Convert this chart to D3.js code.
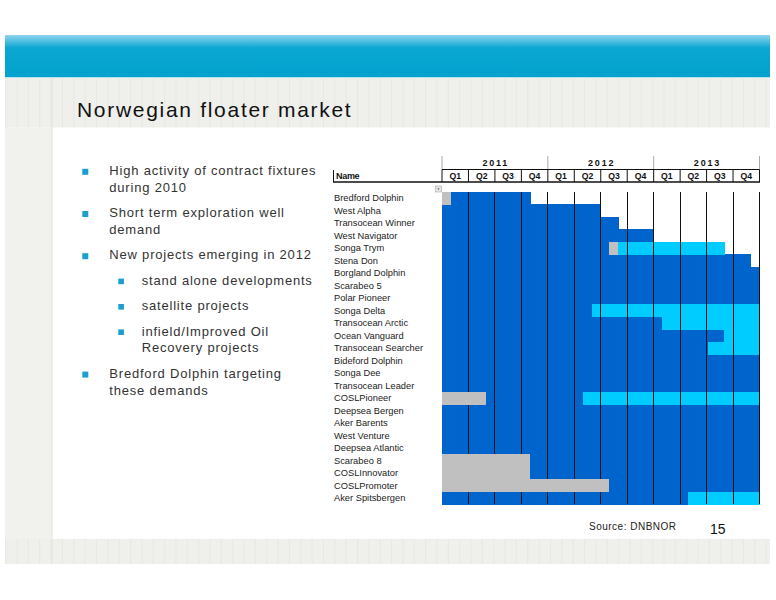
<!DOCTYPE html>
<html>
<head>
<meta charset="utf-8">
<script src="https://cdn.jsdelivr.net/npm/d3@7/dist/d3.min.js"></script>
<style>
  body { margin: 0; background: #fff; }
  svg { display: block; font-family: "Liberation Sans", Arial, Helvetica, sans-serif; }
</style>
</head>
<body>
<svg id="slide" width="776" height="600"></svg>
<script>
// Chart data
const years = ['2011', '2012', '2013'];
const quarters = ['Q1', 'Q2', 'Q3', 'Q4'];
const rigs = [
    'Bredford Dolphin', 'West Alpha', 'Transocean Winner', 'West Navigator', 'Songa Trym',
    'Stena Don', 'Borgland Dolphin', 'Scarabeo 5', 'Polar Pioneer', 'Songa Delta',
    'Transocean Arctic', 'Ocean Vanguard', 'Transocean Searcher', 'Bideford Dolphin', 'Songa Dee',
    'Transocean Leader', 'COSLPioneer', 'Deepsea Bergen', 'Aker Barents', 'West Venture',
    'Deepsea Atlantic', 'Scarabeo 8', 'COSLInnovator', 'COSLPromoter', 'Aker Spitsbergen'
];
// segments in quarters from start of 2011: [rig, from, to]
const yardStays = [
    ['Bredford Dolphin', 0, 0.33], ['Songa Trym', 6.32, 6.65], ['COSLPioneer', 0, 1.65],
    ['Scarabeo 8', 0, 3.33], ['COSLInnovator', 0, 3.33], ['COSLPromoter', 0, 6.32]
];
const contracts = [
    ['Bredford Dolphin', 0.33, 3.37], ['West Alpha', 0, 6], ['Transocean Winner', 0, 6.7],
    ['West Navigator', 0, 8], ['Songa Trym', 0, 6.32], ['Stena Don', 0, 11.67],
    ['Borgland Dolphin', 0, 12], ['Scarabeo 5', 0, 12], ['Polar Pioneer', 0, 12],
    ['Songa Delta', 0, 5.68], ['Transocean Arctic', 0, 8.33], ['Ocean Vanguard', 0, 10.67],
    ['Transocean Searcher', 0, 10.04], ['Bideford Dolphin', 0, 12], ['Songa Dee', 0, 12],
    ['Transocean Leader', 0, 12], ['COSLPioneer', 1.65, 5.34], ['Deepsea Bergen', 0, 12],
    ['Aker Barents', 0, 12], ['West Venture', 0, 12], ['Deepsea Atlantic', 0, 12],
    ['Scarabeo 8', 3.33, 12], ['COSLInnovator', 3.33, 12], ['COSLPromoter', 6.32, 12],
    ['Aker Spitsbergen', 0, 9.31]
];
const newContracts = [
    ['Songa Trym', 6.65, 10.7], ['Songa Delta', 5.68, 12], ['Transocean Arctic', 8.33, 12],
    ['Ocean Vanguard', 10.67, 12], ['Transocean Searcher', 10.04, 12], ['COSLPioneer', 5.34, 12],
    ['Aker Spitsbergen', 9.31, 12]
];
const bullets = [
    [0, ['High activity of contract fixtures', 'during 2010']],
    [0, ['Short term exploration well', 'demand']],
    [0, ['New projects emerging in 2012']],
    [1, ['stand alone developments']],
    [1, ['satellite projects']],
    [1, ['infield/Improved Oil', 'Recovery projects']],
    [0, ['Bredford Dolphin targeting', 'these demands']]
];

const svg = d3.select('#slide');

// --- slide background ---
const defs = svg.append('defs');
const grad = defs.append('linearGradient')
    .attr('id', 'band').attr('x1', 0).attr('x2', 0).attr('y1', 0).attr('y2', 1);
grad.append('stop').attr('offset', '0%').attr('stop-color', '#8fd5ec');
grad.append('stop').attr('offset', '30%').attr('stop-color', '#0ca7d3');
grad.append('stop').attr('offset', '100%').attr('stop-color', '#00a2cd');

svg.append('rect').attr('x', 5).attr('y', 35).attr('width', 765).attr('height', 42.5)
    .attr('fill', 'url(#band)');
svg.append('rect').attr('x', 5).attr('y', 77.5).attr('width', 765).attr('height', 50)
    .attr('fill', '#efefeb');
svg.append('rect').attr('x', 5).attr('y', 127.5).attr('width', 47).attr('height', 412)
    .attr('fill', '#f1f1ed');
svg.append('rect').attr('x', 5).attr('y', 539).attr('width', 765).attr('height', 25)
    .attr('fill', '#efefeb');

const stripes = d3.range(5.7, 770, 11.35);
[[77.5, 127.5], [539, 564]].forEach(([y0, y1]) => {
    svg.append('g').selectAll('line').data(stripes).join('line')
        .attr('x1', d => d).attr('x2', d => d)
        .attr('y1', y0).attr('y2', y1)
        .attr('stroke', '#e6e6e1').attr('stroke-width', 0.8);
});
svg.append('line').attr('x1', 52).attr('x2', 52).attr('y1', 77.5).attr('y2', 564)
    .attr('stroke', '#e2e2dd');

svg.append('text')
    .attr('x', 77).attr('y', 116.7)
    .style('font-size', '21px').style('letter-spacing', '1.7px')
    .attr('fill', '#111')
    .text('Norwegian floater market');

// --- bullet list ---
let by = 175;
bullets.forEach(([level, lines]) => {
    const bx = level === 0 ? 82.3 : 118.3;
    const tx = level === 0 ? 109.3 : 141.7;
    const sz = level === 0 ? 6 : 5.6;
    svg.append('rect')
        .attr('x', bx).attr('y', by - 6.2).attr('width', sz).attr('height', sz)
        .attr('fill', '#1a9fcf');
    lines.forEach(line => {
        svg.append('text')
            .attr('x', tx).attr('y', by)
            .style('font-size', '13px').style('letter-spacing', '0.8px')
            .attr('fill', '#333')
            .text(line);
        by += 16.8;
    });
    by += 8.6;
});

// --- gantt ---
const x = d3.scaleLinear().domain([0, 12]).range([442, 759.5]);
const y = d3.scaleBand().domain(rigs).range([191.7, 504.2]);

const gantt = svg.append('g').attr('shape-rendering', 'crispEdges');

function drawBars(data, colour) {
    gantt.append('g').selectAll('rect').data(data).join('rect')
        .attr('x', d => x(d[1]))
        .attr('y', d => y(d[0]))
        .attr('width', d => x(d[2]) - x(d[1]))
        .attr('height', y.bandwidth() + 0.6)
        .attr('fill', colour);
}
drawBars(contracts, '#0064cd');
drawBars(newContracts, '#00ccff');

// quarter grid lines over the bars
gantt.append('g').selectAll('line').data(d3.range(1, 13)).join('line')
    .attr('x1', d => x(d)).attr('x2', d => x(d))
    .attr('y1', y.range()[0]).attr('y2', y.range()[1])
    .attr('stroke', '#111').attr('stroke-width', 1);

drawBars(yardStays, '#c0c0c0');

// rig names
svg.append('g').selectAll('text').data(rigs).join('text')
    .attr('x', 334)
    .attr('y', d => y(d) + y.bandwidth() / 2 + 3.3)
    .style('font-size', '9.3px')
    .attr('fill', '#222')
    .text(d => d);

// --- header ---
const head = svg.append('g');
head.selectAll('line.year').data(d3.range(0, 13, 4)).join('line')
    .attr('class', 'year')
    .attr('x1', d => x(d)).attr('x2', d => x(d))
    .attr('y1', 156).attr('y2', 169)
    .attr('stroke', '#aaa');
head.selectAll('text.year').data(years).join('text')
    .attr('class', 'year')
    .attr('x', (d, i) => x(i * 4 + 2) + 0.9)
    .attr('y', 166)
    .attr('text-anchor', 'middle')
    .style('font-size', '9px').style('font-weight', 'bold').style('letter-spacing', '1.8px')
    .attr('fill', '#111')
    .text(d => d);

const qLabels = d3.range(12).map(i => quarters[i % 4]);
head.append('line').attr('x1', x(0)).attr('x2', x(12)).attr('y1', 169.5).attr('y2', 169.5)
    .attr('stroke', '#111');
head.selectAll('line.q').data(d3.range(0, 13)).join('line')
    .attr('class', 'q')
    .attr('x1', d => x(d)).attr('x2', d => x(d))
    .attr('y1', 169.5).attr('y2', 182)
    .attr('stroke', '#111');
head.selectAll('text.q').data(qLabels).join('text')
    .attr('class', 'q')
    .attr('x', (d, i) => x(i + 0.5))
    .attr('y', 179)
    .attr('text-anchor', 'middle')
    .style('font-size', '8.7px').style('font-weight', 'bold')
    .attr('fill', '#111')
    .text(d => d);
head.append('line').attr('x1', 333).attr('x2', 760).attr('y1', 182).attr('y2', 182)
    .attr('stroke', '#111').attr('stroke-width', 1.6);
head.append('line').attr('x1', 333.5).attr('x2', 333.5).attr('y1', 170).attr('y2', 182)
    .attr('stroke', '#111');
head.append('text')
    .attr('x', 336).attr('y', 179.3)
    .style('font-size', '9px').style('font-weight', 'bold').style('letter-spacing', '-0.3px')
    .attr('fill', '#111')
    .text('Name');

// filter drop-down button
head.append('rect').attr('x', 435.5).attr('y', 186).attr('width', 6).attr('height', 6)
    .attr('fill', '#e6e6e6').attr('stroke', '#9a9a9a').attr('stroke-width', 0.5);
head.append('path').attr('d', 'M437.3,188.4 L439.7,188.4 L438.5,189.8 Z').attr('fill', '#333');

// --- footer ---
svg.append('text')
    .attr('x', 589).attr('y', 530)
    .style('font-size', '10px').style('letter-spacing', '0.5px')
    .attr('fill', '#222')
    .text('Source: DNBNOR');
svg.append('text')
    .attr('x', 710).attr('y', 534.3)
    .style('font-size', '14px')
    .attr('fill', '#111')
    .text('15');
</script>
</body>
</html>
